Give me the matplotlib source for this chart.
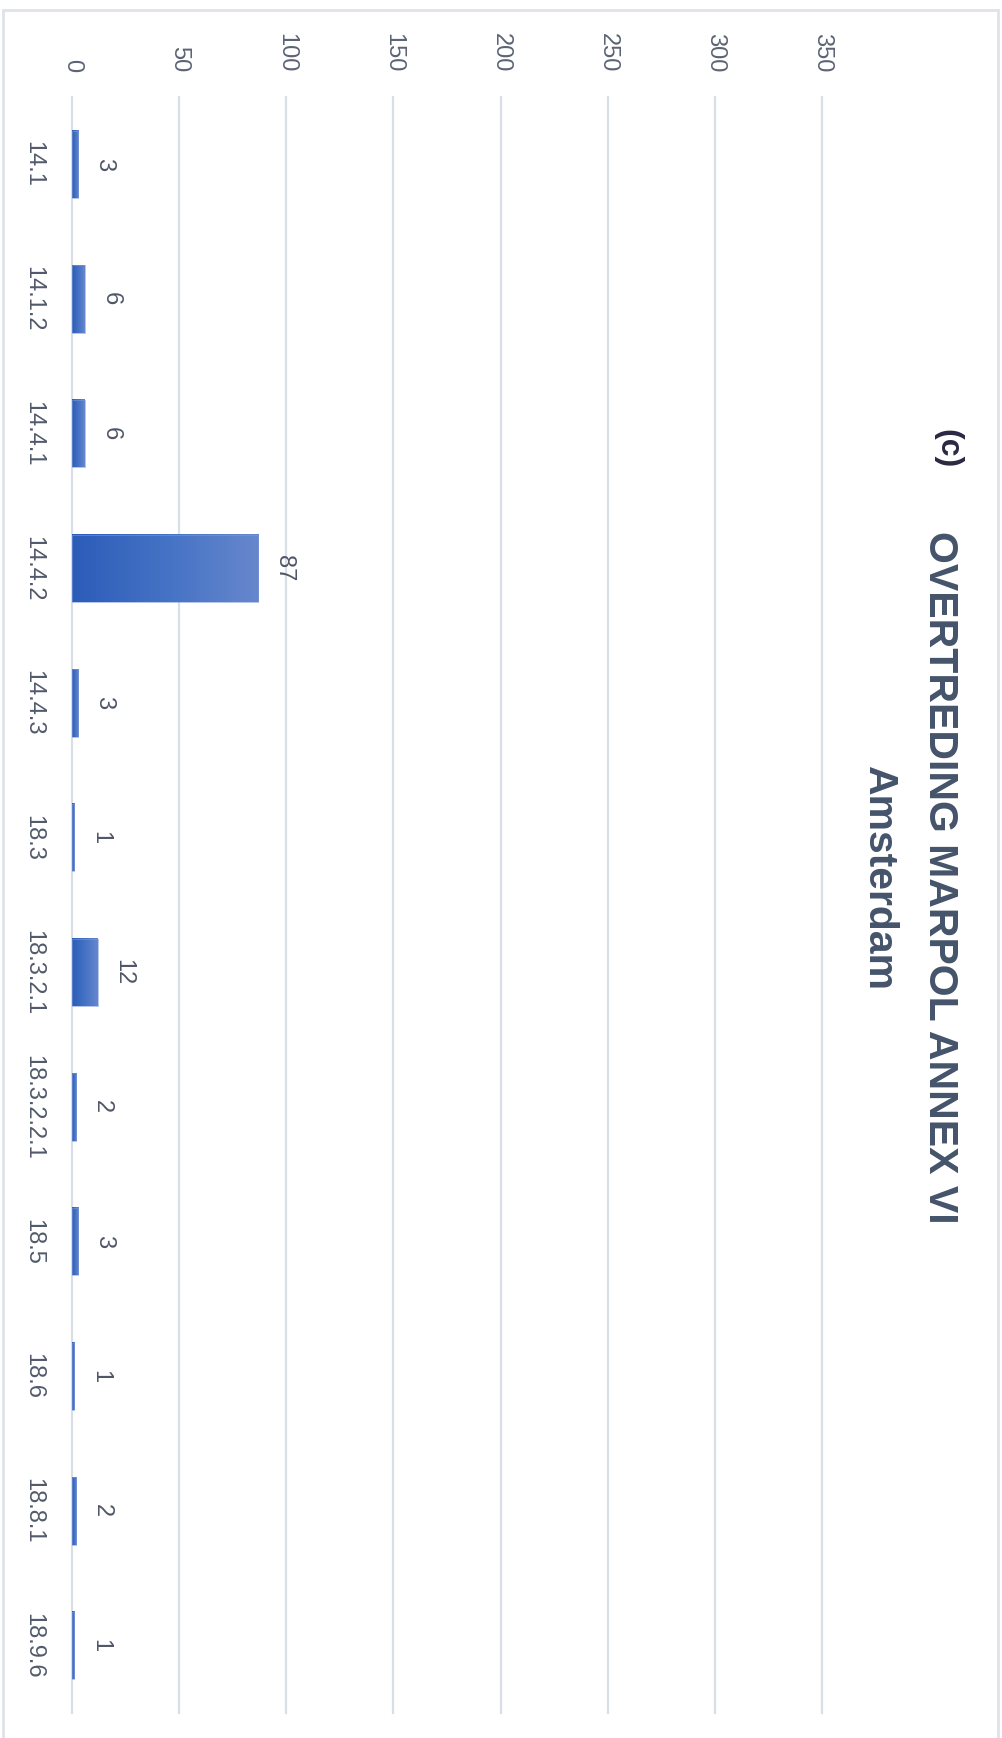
import numpy as np
import matplotlib
matplotlib.use("Agg")
import matplotlib.pyplot as plt
from matplotlib.colors import LinearSegmentedColormap
from matplotlib.patches import Rectangle

plt.rcParams['font.family'] = ['Liberation Sans', 'DejaVu Sans']

categories = ['14.1', '14.1.2', '14.4.1', '14.4.2', '14.4.3', '18.3',
              '18.3.2.1', '18.3.2.2.1', '18.5', '18.6', '18.8.1', '18.9.6']
counts = [3, 6, 6, 87, 3, 1, 12, 2, 3, 1, 2, 1]
value_ticks = [0, 50, 100, 150, 200, 250, 300, 350]

title_main = 'OVERTREDING MARPOL ANNEX VI'
title_sub = 'Amsterdam'
panel = '(c)'

W, H = 1003, 1738
fig = plt.figure(figsize=(W / 100, H / 100), dpi=100)

# light frame around the chart
fig.patches.append(Rectangle((3 / W, -0.01), 995 / W, 1 - 10 / H + 0.01,
                             transform=fig.transFigure, fill=False,
                             edgecolor='#dfe3e9', linewidth=2))

# the column chart is laid on its side: categories run down, values run right
ax = fig.add_axes([72 / W, 1 - 1713 / H, 750 / W, 1616 / H])

grad = LinearSegmentedColormap.from_list('bar', ['#2b5cb8', '#4472c4', '#6787cd'])
ramp = np.linspace(0, 1, 256).reshape(1, -1)
bar_w = 0.5
for i, v in enumerate(counts):
    ax.imshow(ramp, cmap=grad, aspect='auto', interpolation='bilinear',
              extent=(0, v, i + bar_w / 2, i - bar_w / 2), zorder=3)
    ax.add_patch(Rectangle((0, i - bar_w / 2), v, bar_w, fill=False,
                           edgecolor='#7d99d6', linewidth=0.4, zorder=4))
    ax.annotate(str(v), (v, i), xytext=(18.5, 0), textcoords='offset points',
                rotation=-90, rotation_mode='anchor', ha='center', va='center',
                fontsize=17, color='#4f5667', zorder=5)

ax.set_xlim(0, 350)
ax.set_ylim(len(categories) - 0.5, -0.5)

ax.xaxis.tick_top()
ax.set_xticks(value_ticks)
ax.set_xticklabels([str(t) for t in value_ticks], rotation=-90)
ax.set_yticks(range(len(categories)))
ax.set_yticklabels(categories, rotation=-90, va='center')
ax.tick_params(axis='x', length=0, pad=18, labelsize=17, labelcolor='#5b6374')
ax.tick_params(axis='y', length=0, pad=20, labelsize=17, labelcolor='#515a6b')

ax.grid(axis='x', color='#dadfe7', linewidth=1.6)
ax.grid(axis='y', visible=False)
for line in ax.get_xgridlines():
    line.set_clip_on(False)
ax.set_axisbelow(True)
for s in ax.spines.values():
    s.set_visible(False)

# title block, rotated to read top to bottom
fig.text(929 / W, 1 - 877 / H, title_main, rotation=-90, rotation_mode='anchor',
         ha='center', va='baseline', fontsize=29.5, fontweight='bold',
         color='#44546a')
fig.text(868 / W, 1 - 879 / H, title_sub, rotation=-90, rotation_mode='anchor',
         ha='center', va='baseline', fontsize=29.5, fontweight='bold',
         color='#44546a')
fig.text(939 / W, 1 - 449 / H, panel, rotation=-90, rotation_mode='anchor',
         ha='center', va='baseline', fontsize=23, fontweight='bold',
         color='#2a2944')

fig.savefig('out.png', dpi=100, facecolor='white')
